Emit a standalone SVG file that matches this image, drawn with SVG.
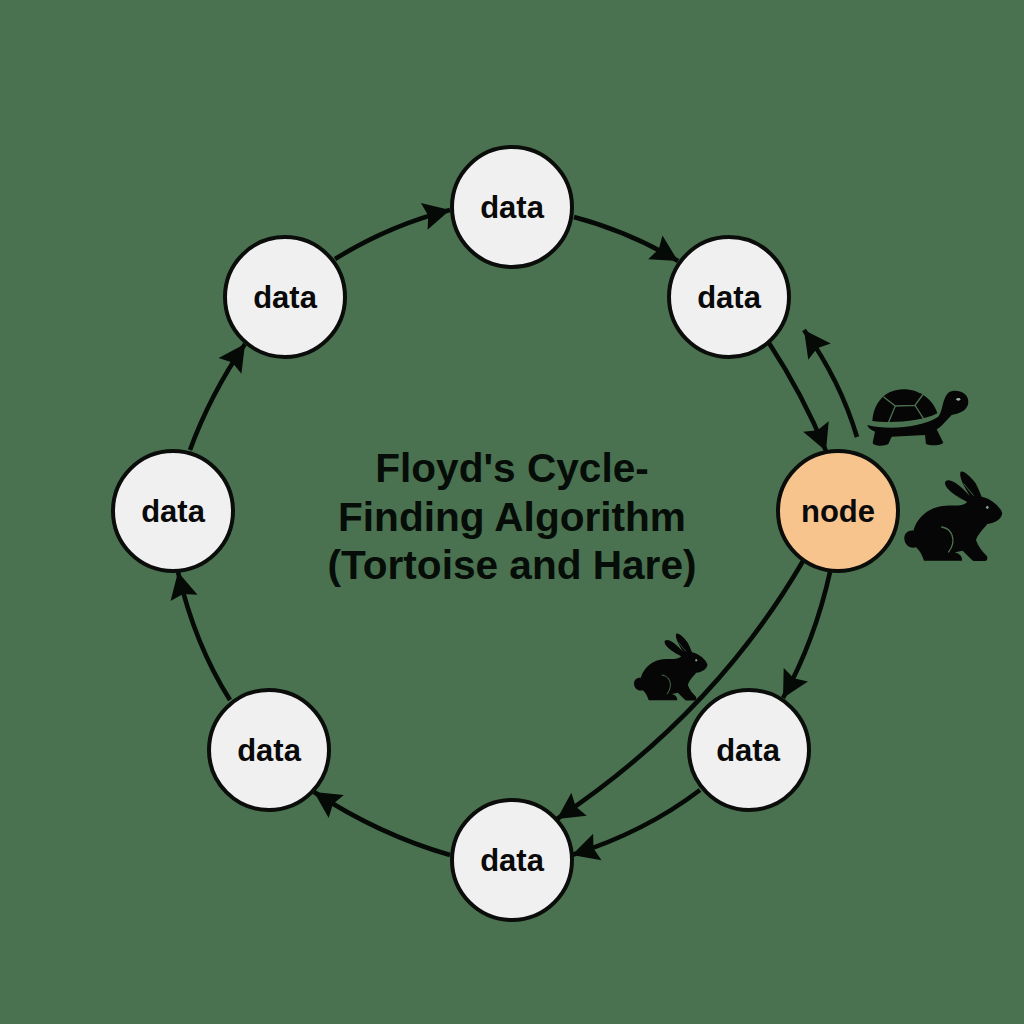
<svg xmlns="http://www.w3.org/2000/svg" width="1024" height="1024" viewBox="0 0 1024 1024">
<style>
.n{fill:#f0f0f0;stroke:#0a0d0a;stroke-width:4}
.o{fill:#f8c48e}
.t{font-family:"Liberation Sans",Arial,sans-serif;font-weight:700;font-size:31px;fill:#0a0a0a;text-anchor:middle}
.h{font-family:"Liberation Sans",Arial,sans-serif;font-weight:700;font-size:40.6px;fill:#060d08;text-anchor:middle}
.c{fill:none;stroke:#050a06;stroke-width:4.6;marker-end:url(#a)}
.s{fill:#050605}
.g{fill:none;stroke:#4b7250;stroke-width:4;stroke-linecap:round}
</style>
<defs>
<marker id="a" markerUnits="userSpaceOnUse" markerWidth="30" markerHeight="30" refX="24" refY="13" orient="auto" viewBox="0 0 26 26"><path d="M24 13 L1 1 L4.5 13 L1 25 Z" fill="#050a06"/></marker>
<g id="rabbit">
<path class="s" d="M492 722 C486 705 480 692 468 682 C450 688 433 674 433 655 C433 640 445 630 460 632 C472 590 510 558 560 557 C590 556 608 560 622 546 C600 535 558 512 555 490 C555 478 570 478 588 490 C603 500 616 514 630 528 C615 505 595 470 602 456 C610 450 632 470 647 490 C655 505 660 518 665 530 C692 535 722 560 727 580 C725 597 705 610 682 612 C672 625 655 640 648 660 C655 680 667 695 680 707 C684 712 683 722 675 723 L640 723 C628 712 618 702 608 692 L585 697 C600 702 607 710 606 722 Z"/>
<path class="g" d="M545 621 C575 625 592 660 566 696"/>
<path class="g" style="stroke-width:2.5" d="M612 492 L640 526"/>
<ellipse cx="682" cy="562" rx="4" ry="5" fill="#7f9a86"/>
</g>
</defs>
<rect width="1024" height="1024" fill="#4b7250"/>
<g id="connectors">
<path class="c" d="M574 217 Q630 232 678 261"/>
<path class="c" d="M769 343 Q803 395 826 451"/>
<path class="c" d="M857 437 Q840 380 804 330"/>
<path class="c" d="M830 572 Q815 640 783 698"/>
<path class="c" d="M803 561 Q714 714 557 819"/>
<path class="c" d="M700 790 Q645 832 572 855"/>
<path class="c" d="M450 855 Q380 835 314 792"/>
<path class="c" d="M230 700 Q195 645 178 572"/>
<path class="c" d="M190 450 Q210 395 245 344"/>
<path class="c" d="M335 259 Q390 225 450 210"/>
</g>
<g id="node-top"><circle class="n" cx="512" cy="207" r="60"/><text class="t" x="512" y="218">data</text></g>
<g id="node-upper-right"><circle class="n" cx="729" cy="297" r="60"/><text class="t" x="729" y="308">data</text></g>
<g id="node-meeting"><circle class="n o" cx="838" cy="511" r="60"/><text class="t" x="838" y="522">node</text></g>
<g id="node-lower-right"><circle class="n" cx="749" cy="750" r="60"/><text class="t" x="748" y="761">data</text></g>
<g id="node-bottom"><circle class="n" cx="512" cy="860" r="60"/><text class="t" x="512" y="871">data</text></g>
<g id="node-lower-left"><circle class="n" cx="269" cy="750" r="60"/><text class="t" x="269" y="761">data</text></g>
<g id="node-left"><circle class="n" cx="173" cy="511" r="60"/><text class="t" x="173" y="522">data</text></g>
<g id="node-upper-left"><circle class="n" cx="285" cy="297" r="60"/><text class="t" x="285" y="308">data</text></g>
<g id="title">
<text class="h" x="512" y="482">Floyd's Cycle-</text>
<text class="h" x="512" y="531">Finding Algorithm</text>
<text class="h" x="512" y="579">(Tortoise and Hare)</text>
</g>
<g id="tortoise" transform="translate(760 320) scale(.3333)">
<path class="s" d="M337 303 C340 250 375 208 430 208 C480 208 520 240 532 280 C490 302 400 312 337 303 Z"/>
<path class="s" d="M322 315 C380 330 480 325 535 290 C550 270 545 240 565 218 C585 205 625 215 625 245 C625 270 600 280 575 285 C560 300 545 320 530 328 L550 368 C540 378 510 378 498 372 L495 345 L395 350 L385 372 C370 380 340 378 338 368 L345 335 C335 330 325 325 322 315 Z"/>
<path class="g" d="M372 232 L406 258 L385 308 M490 222 L465 256 L492 298 M406 258 L465 256"/>
<ellipse cx="595" cy="238" rx="6" ry="4" fill="#9fb5a5"/>
</g>
<g id="hare-large" transform="translate(760 320) scale(.3333)"><use href="#rabbit"/></g>
<g id="hare-small" transform="translate(634 633) scale(.25) translate(-433 -453)"><use href="#rabbit"/></g>
</svg>
